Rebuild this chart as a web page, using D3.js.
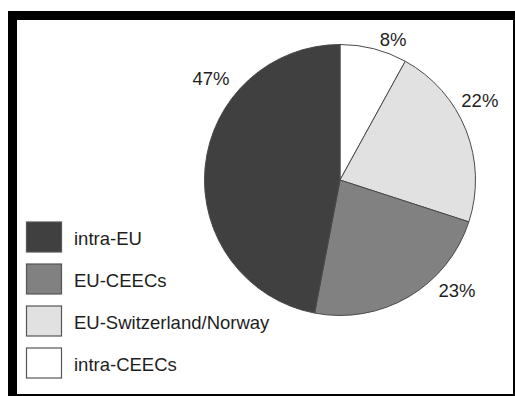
<!DOCTYPE html>
<html>
<head>
<meta charset="utf-8">
<script src="https://cdn.jsdelivr.net/npm/d3@7"></script>
<style>
  html, body { margin: 0; padding: 0; background: #fff; }
  svg { display: block; }
  text { font-family: "Liberation Sans", Arial, Helvetica, sans-serif; fill: #1e1e1e; }
</style>
</head>
<body>
<svg id="chart" width="515" height="396"></svg>
<script>
// Trade flow shares, listed in legend order
const categories = ["intra-EU", "EU-CEECs", "EU-Switzerland/Norway", "intra-CEECs"];
const shares = [47, 23, 22, 8];
const shareLabels = ["47%", "23%", "22%", "8%"];
const fills = ["#404040", "#818181", "#e1e1e1", "#ffffff"];

// Label placement around the pie (degrees clockwise from 12 o'clock, radius in px)
const labelAngle = [308.3, 133.4, 60.3, 20.7];
const labelRadius = [164.5, 161, 161, 150];

const svg = d3.select("#chart");
const W = 515, H = 396;

// Black frame: heavy top and left edges, thin right and bottom edges
const frame = svg.append("g").attr("fill", "#000");
frame.append("rect").attr("x", 8).attr("y", 11).attr("width", W - 8).attr("height", 9);
frame.append("rect").attr("x", 8).attr("y", 11).attr("width", 9).attr("height", H - 11);
frame.append("rect").attr("x", W - 2).attr("y", 11).attr("width", 2).attr("height", H - 11);
frame.append("rect").attr("x", 8).attr("y", H - 2).attr("width", W - 8).attr("height", 2);

const data = categories.map((c, i) => ({
  name: c, value: shares[i], label: shareLabels[i], fill: fills[i],
  la: labelAngle[i], lr: labelRadius[i]
}));

// Slices run clockwise from the top: intra-CEECs first, intra-EU last
const pie = d3.pie().sort(null).value(d => d.value);
const arcs = pie(data.slice().reverse());

const cx = 340, cy = 180, R = 135.5;
const arc = d3.arc().innerRadius(0).outerRadius(R);

const g = svg.append("g").attr("transform", `translate(${cx},${cy})`);
g.selectAll("path.slice")
  .data(arcs)
  .join("path")
  .attr("class", "slice")
  .attr("d", arc)
  .attr("fill", d => d.data.fill)
  .attr("stroke", "#4a4a4a")
  .attr("stroke-width", 1)
  .attr("stroke-linejoin", "round");

g.selectAll("text.pct")
  .data(arcs)
  .join("text")
  .attr("class", "pct")
  .attr("transform", d => {
    const [x, y] = d3.pointRadial(d.data.la * Math.PI / 180, d.data.lr);
    return `translate(${x},${y})`;
  })
  .attr("text-anchor", "middle")
  .attr("dy", "0.35em")
  .style("font-size", "18.5px")
  .text(d => d.data.label);

// Legend
const legendY = d3.scaleBand().domain(categories).range([221.5, 221.5 + 42 * 4]).paddingInner(0);
const legend = svg.append("g");
const rows = legend.selectAll("g.row")
  .data(data)
  .join("g")
  .attr("class", "row")
  .attr("transform", d => `translate(26,${legendY(d.name)})`);

rows.append("rect")
  .attr("x", 0.5).attr("y", 0.5)
  .attr("width", 35).attr("height", 30)
  .attr("fill", d => d.fill)
  .attr("stroke", "#555")
  .attr("stroke-width", 1.2);

rows.append("text")
  .attr("x", 48)
  .attr("y", 23.5)
  .style("font-size", "18.5px")
  .text(d => d.name);
</script>
</body>
</html>
